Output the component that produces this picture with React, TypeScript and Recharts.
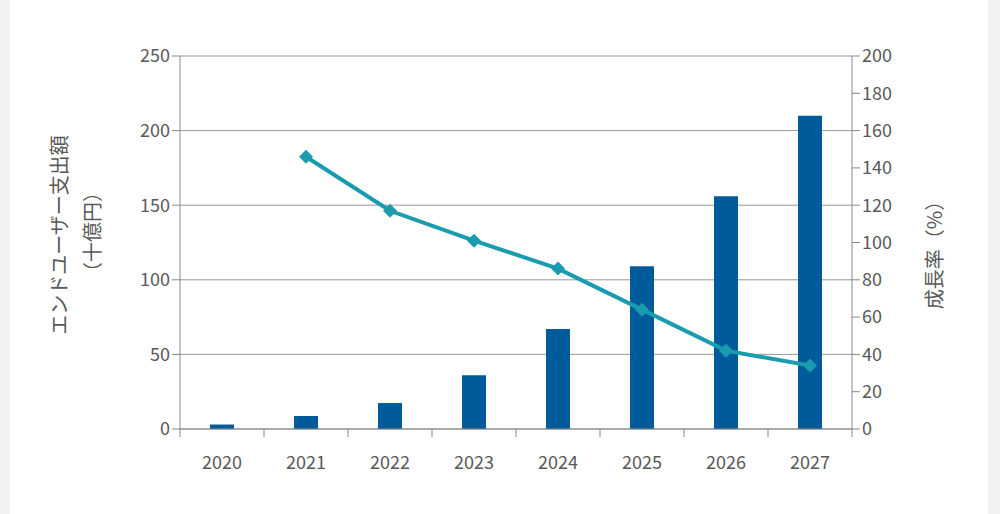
import React from "react";
import { ComposedChart, Bar, Line, XAxis, YAxis, CartesianGrid } from "recharts";

const years = ["2020", "2021", "2022", "2023", "2024", "2025", "2026", "2027"];
const spending = [3, 8.7, 17.4, 36, 67, 109, 156, 210];
const growth: (number | null)[] = [null, 146, 117, 101, 86, 64, 42, 34];
const leftTicks = [0, 50, 100, 150, 200, 250];
const rightTicks = [0, 20, 40, 60, 80, 100, 120, 140, 160, 180, 200];

const data = years.map((y, i) => ({ year: y, spending: spending[i], growth: growth[i] }));
const FONT = "'Noto Sans CJK JP', 'DejaVu Sans', sans-serif";
const TXT = "#595959";

const XTick = (p: any) => {
  const { x, y, payload, index } = p;
  const half = 42;
  return (
    <g>
      {index === 0 && <line x1={x - half} x2={x - half} y1={y - 8} y2={y} stroke="#888" />}
      <line x1={x + half} x2={x + half} y1={y - 8} y2={y} stroke="#888" />
      <text x={x} y={y + 32} textAnchor="middle" fill={TXT} fontSize={18} fontFamily={FONT}>{payload.value}</text>
    </g>
  );
};

const Diamond = (p: any) => {
  const { cx, cy } = p;
  if (cx == null || cy == null || p.value == null) return <g />;
  return <path d={`M${cx},${cy - 7} L${cx + 7},${cy} L${cx},${cy + 7} L${cx - 7},${cy} Z`} fill="#1a9bb0" />;
};

export default function App() {
  return (
    <div style={{ position: "absolute", left: 0, top: 0, width: 1000, height: 514, background: "#f2f2f2" }}>
      <div style={{ position: "absolute", left: 10, top: 0, width: 978, height: 514, background: "#fff" }} />
      <div style={{ position: "absolute", left: 0, top: 0 }}>
        <ComposedChart width={1000} height={514} data={data} margin={{ top: 56, right: 0, bottom: 0, left: 0 }}>
          <CartesianGrid yAxisId="left" vertical={false} stroke="#999" />
          <XAxis dataKey="year" height={85} tickLine={false} axisLine={{ stroke: "#888" }} tick={<XTick />} interval={0} />
          <YAxis yAxisId="left" width={180} domain={[0, 250]} ticks={leftTicks} tickSize={8}
            tickLine={{ stroke: "#888" }} axisLine={{ stroke: "#888" }}
            tick={{ fill: TXT, fontSize: 18, fontFamily: FONT }}
            label={({ viewBox }: any) => (
              <g>
                <text transform="translate(62,235) rotate(-90)" textAnchor="middle" dominantBaseline="middle" fill={TXT} fontSize={20} fontFamily={FONT}>エンドユーザー支出額</text>
                <text transform="translate(95,232) rotate(-90)" textAnchor="middle" dominantBaseline="middle" fill={TXT} fontSize={20} fontFamily={FONT}>（十億円）</text>
              </g>
            )} />
          <YAxis yAxisId="right" orientation="right" width={148} domain={[0, 200]} ticks={rightTicks} tickSize={8}
            tickLine={{ stroke: "#888" }} axisLine={{ stroke: "#888" }}
            tick={{ fill: TXT, fontSize: 18, fontFamily: FONT }}
            label={() => (
              <text transform="translate(937,250) rotate(-90)" textAnchor="middle" dominantBaseline="middle" fill={TXT} fontSize={20} fontFamily={FONT}>成長率（%）</text>
            )} />
          <Bar yAxisId="left" dataKey="spending" fill="#005b9a" barSize={24} isAnimationActive={false} />
          <Line yAxisId="right" dataKey="growth" stroke="#1a9bb0" strokeWidth={4} dot={<Diamond />} activeDot={false} isAnimationActive={false} connectNulls={false} />
        </ComposedChart>
      </div>
    </div>
  );
}
